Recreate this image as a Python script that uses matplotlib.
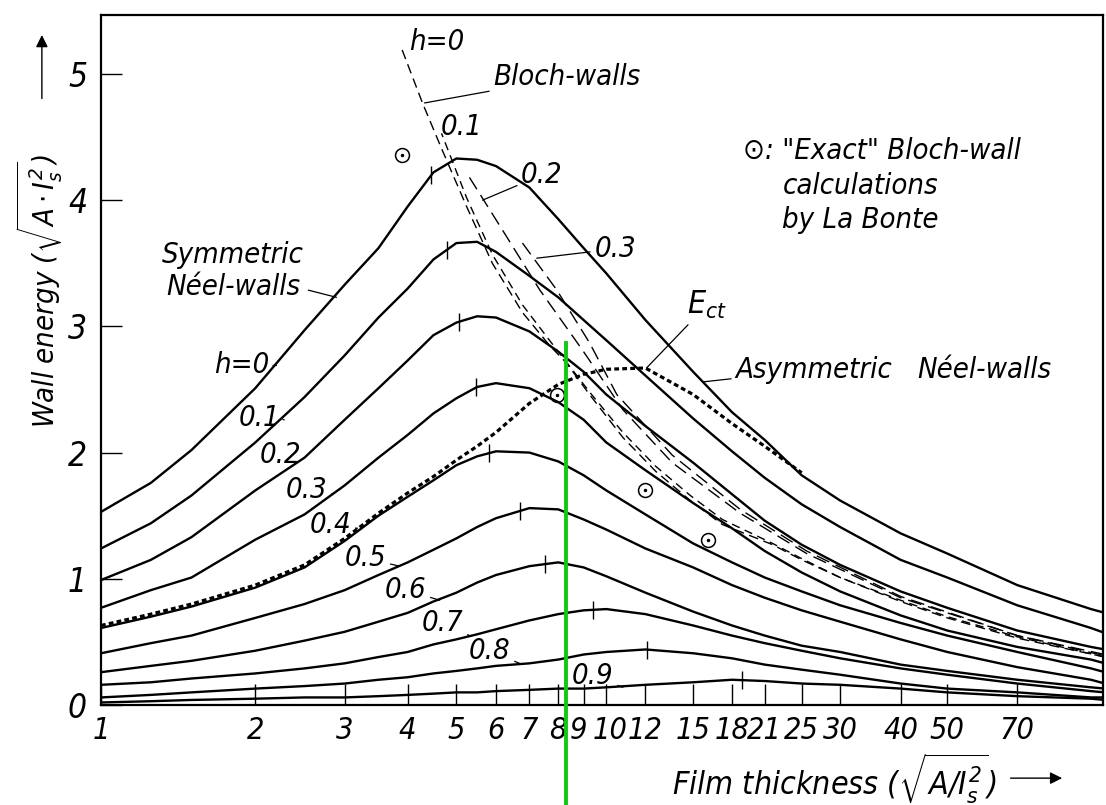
import numpy as np
import matplotlib
matplotlib.use("Agg")
import matplotlib.pyplot as plt
import matplotlib.transforms as mtransforms

plt.rcParams['font.family'] = ['DejaVu Sans']
plt.rcParams['font.stretch'] = 'condensed'
plt.rcParams['font.style'] = 'italic'
plt.rcParams['mathtext.fontset'] = 'custom'
plt.rcParams['mathtext.rm'] = 'DejaVu Sans:italic:stretch=condensed'
plt.rcParams['mathtext.it'] = 'DejaVu Sans:italic:stretch=condensed'

#---------------- data ----------------
thickness = [1, 1.25, 1.5, 2, 2.5, 3, 3.5, 4, 4.5, 5, 5.5, 6, 7, 8, 9, 10,
             12, 15, 18, 21, 25, 30, 40, 50, 70, 100, 107]

# symmetric Neel walls, h = 0 ... 0.9
neel_00 = [1.53, 1.76, 2.02, 2.51, 2.97, 3.33, 3.62, 3.95, 4.22, 4.33, 4.32, 4.27, 4.10, 3.85,
           3.62, 3.42, 3.05, 2.64, 2.32, 2.10, 1.82, 1.62, 1.36, 1.20, 0.95, 0.76, 0.73]
neel_01 = [1.24, 1.44, 1.66, 2.08, 2.44, 2.77, 3.07, 3.30, 3.53, 3.66, 3.67, 3.59, 3.40, 3.23,
           3.05, 2.89, 2.61, 2.27, 2.01, 1.80, 1.59, 1.41, 1.15, 1.01, 0.79, 0.61, 0.57]
neel_02 = [0.99, 1.15, 1.33, 1.70, 1.96, 2.26, 2.51, 2.73, 2.93, 3.03, 3.08, 3.07, 2.96, 2.80,
           2.64, 2.46, 2.21, 1.92, 1.67, 1.46, 1.27, 1.11, 0.90, 0.77, 0.59, 0.46, 0.44]
neel_03 = [0.77, 0.91, 1.01, 1.31, 1.51, 1.74, 1.96, 2.14, 2.31, 2.43, 2.52, 2.55, 2.51, 2.40,
           2.26, 2.08, 1.86, 1.60, 1.40, 1.22, 1.05, 0.90, 0.71, 0.59, 0.46, 0.36, 0.33]
neel_04 = [0.61, 0.70, 0.78, 0.93, 1.09, 1.30, 1.50, 1.65, 1.78, 1.90, 1.97, 2.01, 2.00, 1.93,
           1.82, 1.70, 1.51, 1.28, 1.13, 1.01, 0.90, 0.79, 0.65, 0.55, 0.42, 0.29, 0.26]
neel_05 = [0.41, 0.49, 0.55, 0.69, 0.80, 0.91, 1.03, 1.13, 1.23, 1.32, 1.41, 1.48, 1.56, 1.55,
           1.47, 1.39, 1.24, 1.09, 0.95, 0.85, 0.75, 0.66, 0.52, 0.42, 0.30, 0.20, 0.17]
neel_06 = [0.26, 0.31, 0.35, 0.43, 0.51, 0.58, 0.66, 0.73, 0.82, 0.89, 0.97, 1.03, 1.10, 1.13,
           1.09, 1.02, 0.89, 0.74, 0.63, 0.55, 0.47, 0.42, 0.32, 0.27, 0.20, 0.14, 0.13]
neel_07 = [0.16, 0.18, 0.21, 0.25, 0.29, 0.33, 0.38, 0.42, 0.48, 0.52, 0.56, 0.60, 0.67, 0.72,
           0.75, 0.76, 0.72, 0.63, 0.55, 0.49, 0.43, 0.37, 0.29, 0.24, 0.17, 0.11, 0.10]
neel_08 = [0.06, 0.08, 0.10, 0.13, 0.15, 0.17, 0.20, 0.22, 0.25, 0.27, 0.29, 0.31, 0.33, 0.36,
           0.40, 0.42, 0.44, 0.41, 0.37, 0.32, 0.28, 0.24, 0.17, 0.13, 0.10, 0.06, 0.06]
neel_09 = [0.02, 0.03, 0.04, 0.05, 0.06, 0.06, 0.07, 0.08, 0.09, 0.10, 0.10, 0.11, 0.12, 0.13,
           0.13, 0.14, 0.16, 0.18, 0.20, 0.19, 0.17, 0.16, 0.13, 0.10, 0.07, 0.05, 0.04]
neel_curves = [neel_00, neel_01, neel_02, neel_03, neel_04,
               neel_05, neel_06, neel_07, neel_08, neel_09]
# little tick marks near the maxima
peak_ticks = [4.46, 4.78, 5.07, 5.48, 5.82, 6.69, 7.51, 9.38, 12.06, 18.9]

# E_ct (asymmetric Neel walls), dotted
ect_x = thickness[:21]
ect_y = [0.63, 0.72, 0.80, 0.95, 1.11, 1.32, 1.52, 1.68, 1.81, 1.94, 2.05, 2.16, 2.39, 2.54,
         2.62, 2.66, 2.67, 2.46, 2.23, 2.05, 1.84]

# Bloch walls, dashed
bloch_00_x = [3.90, 4.28, 4.67, 5.24, 5.90, 6.78, 7.68, 8.31, 9.25, 10.8, 12.6, 14.8, 17.2,
              21.8, 25, 30, 40, 50, 70, 107]
bloch_00_y = [5.19, 4.77, 4.41, 3.95, 3.50, 3.11, 2.85, 2.71, 2.46, 2.12, 1.85, 1.62, 1.43,
              1.27, 1.15, 1.01, 0.82, 0.69, 0.53, 0.38]
bloch_01_x = [4.67, 5.24, 5.90, 6.78, 7.68, 9.25, 10.8, 12.6, 14.8, 17.2, 21.8, 25, 30, 40,
              50, 70, 107]
bloch_01_y = [4.53, 4.02, 3.57, 3.17, 2.89, 2.48, 2.16, 1.89, 1.66, 1.47, 1.28, 1.16, 1.01,
              0.83, 0.70, 0.54, 0.38]
bloch_02_x = [5.31, 6.10, 7.34, 8.96, 10.8, 13.6, 18.7, 25.6, 40, 70, 107]
bloch_02_y = [4.18, 3.80, 3.29, 2.81, 2.34, 1.92, 1.52, 1.20, 0.85, 0.55, 0.39]
bloch_03_x = [6.78, 7.94, 9.25, 10.5, 13.6, 18.7, 25.6, 40, 70, 107]
bloch_03_y = [3.66, 3.29, 2.87, 2.46, 1.98, 1.55, 1.22, 0.86, 0.55, 0.40]

# "exact" Bloch wall points (La Bonte)
labonte_x = [3.90, 7.94, 11.96, 16.1]
labonte_y = [4.36, 2.46, 1.70, 1.31]

x_ticks = [1, 2, 3, 4, 5, 6, 7, 8, 9, 10, 12, 15, 18, 21, 25, 30, 40, 50, 70]
y_ticks = [0, 1, 2, 3, 4, 5]

# green marker line
marker_x = 8.31
marker_top = 2.87


#---------------- slightly compressed log axis ----------------
def fwd(x):
    L = np.log10(np.clip(x, 1e-6, None))
    return L - 0.02 * L**2

def inv(f):
    return 10 ** ((1 - np.sqrt(np.clip(1 - 0.08 * f, 0, None))) / 0.04)


fig = plt.figure(figsize=(11.06, 8.05), dpi=100)
ax = fig.add_axes([101 / 1106, 100 / 805, 1002 / 1106, 690 / 805])
ax.set_xscale('function', functions=(fwd, inv))
ax.set_xlim(1, 106)
ax.set_ylim(0, 5.467)

lw = 1.7
for c in neel_curves:
    ax.plot(thickness, c, color='k', lw=lw, solid_joinstyle='round')
for c, px in zip(neel_curves, peak_ticks):
    py = np.interp(np.log10(px), np.log10(thickness), c)
    ax.plot([px], [py], marker='|', ms=13, mew=1.0, color='k', ls='none')

ax.plot(ect_x, ect_y, color='k', lw=2.3, ls=(0, (1.5, 1.0)))

ax.plot(bloch_00_x, bloch_00_y, color='k', lw=1.0, ls=(0, (7, 4)))
ax.plot(bloch_01_x, bloch_01_y, color='k', lw=1.0, ls=(3, (6, 4)))
ax.plot(bloch_02_x, bloch_02_y, color='k', lw=1.0, ls=(0, (10, 5)))
ax.plot(bloch_03_x, bloch_03_y, color='k', lw=1.0, ls=(0, (10, 5)))

ax.plot(labonte_x, labonte_y, 'o', mfc='none', mec='k', ms=10, mew=1.1)
ax.plot(labonte_x, labonte_y, '.', color='k', ms=3)

# green vertical line (runs out below the axes)
ax.plot([marker_x, marker_x], [marker_top, -0.9], color='#13c813', lw=2.8,
        clip_on=False, zorder=6)

# axes / ticks
for s in ax.spines.values():
    s.set_linewidth(1.6)
ax.set_xticks(x_ticks)
ax.set_xticklabels([str(v) for v in x_ticks])
ax.xaxis.set_minor_locator(matplotlib.ticker.NullLocator())
ax.set_yticks(y_ticks)
ax.set_yticklabels([str(v) for v in y_ticks])
ax.tick_params(axis='both', direction='in', length=15, width=1.0)
ax.tick_params(axis='x', pad=8, labelsize=22)
ax.tick_params(axis='y', pad=10, labelsize=24)

# the 9 and 10 labels sit very close in the original
for t in ax.get_xticklabels():
    if t.get_text() == '9':
        t.set_transform(t.get_transform() + mtransforms.ScaledTranslation(-4 / 72, 0, fig.dpi_scale_trans))
    if t.get_text() == '10':
        t.set_transform(t.get_transform() + mtransforms.ScaledTranslation(3 / 72, 0, fig.dpi_scale_trans))

fs = 21
arrow = dict(arrowstyle='-', lw=0.9, color='k', shrinkA=1, shrinkB=0)


def label(txt, tx, ty, x=None, y=None, size=fs, ha='center'):
    if x is None:
        ax.text(tx, ty, txt, transform=ax.transAxes, fontsize=size, ha=ha, va='center')
    else:
        ax.annotate(txt, xy=(x, y), xycoords='data', xytext=(tx, ty),
                    textcoords='axes fraction', fontsize=size, ha=ha, va='center',
                    arrowprops=arrow)


# Bloch wall labels
label('h=0', 0.335, 0.961)
label('Bloch-walls', 0.465, 0.910, 4.32, 4.77)
label('0.1', 0.360, 0.838)
label('0.2', 0.440, 0.768, 5.64, 4.00)
label('0.3', 0.513, 0.661, 7.24, 3.54)

# Neel wall labels
label('Symmetric\nNéel-walls', 0.132, 0.629, 2.89, 3.23)
label('h=0', 0.140, 0.493, 2.20, 2.69)
label('0.1', 0.158, 0.416, 2.28, 2.26)
label('0.2', 0.179, 0.362, 2.50, 1.96)
label('0.3', 0.205, 0.312, 2.84, 1.67)
label('0.4', 0.229, 0.261, 3.18, 1.40)
label('0.5', 0.264, 0.213, 3.85, 1.10)
label('0.6', 0.304, 0.167, 4.63, 0.83)
label('0.7', 0.341, 0.119, 5.31, 0.55)
label('0.8', 0.388, 0.078, 6.69, 0.33)
label('0.9', 0.491, 0.042, 10.8, 0.14)
label(r'$E_{ct}$', 0.605, 0.580, 12.06, 2.67, size=23)
label('Asymmetric', 0.633, 0.486, 15.7, 2.56, ha='left')
label('Néel-walls', 0.815, 0.486, ha='left')

# La Bonte note
label('⊙: "Exact" Bloch-wall', 0.641, 0.803, ha='left')
label('calculations', 0.680, 0.752, ha='left')
label('by La Bonte', 0.680, 0.703, ha='left')

# axis titles with arrows
ax.text(-0.061, 0.60, r'Wall energy $(\sqrt{A\cdot I_s^{2}})$', transform=ax.transAxes,
        rotation=90, fontsize=21, ha='center', va='center')
ax.annotate('', xy=(-0.059, 0.975), xytext=(-0.059, 0.875), xycoords='axes fraction',
            arrowprops=dict(arrowstyle='-|>', lw=1.0, color='k', mutation_scale=18))
ax.text(0.570, -0.106, r'Film thickness $(\sqrt{A/I_s^{2}})$', transform=ax.transAxes,
        fontsize=23, ha='left', va='center')
ax.annotate('', xy=(0.962, -0.106), xytext=(0.905, -0.106), xycoords='axes fraction',
            arrowprops=dict(arrowstyle='-|>', lw=1.0, color='k', mutation_scale=18))

plt.savefig('out.png', dpi=100)
